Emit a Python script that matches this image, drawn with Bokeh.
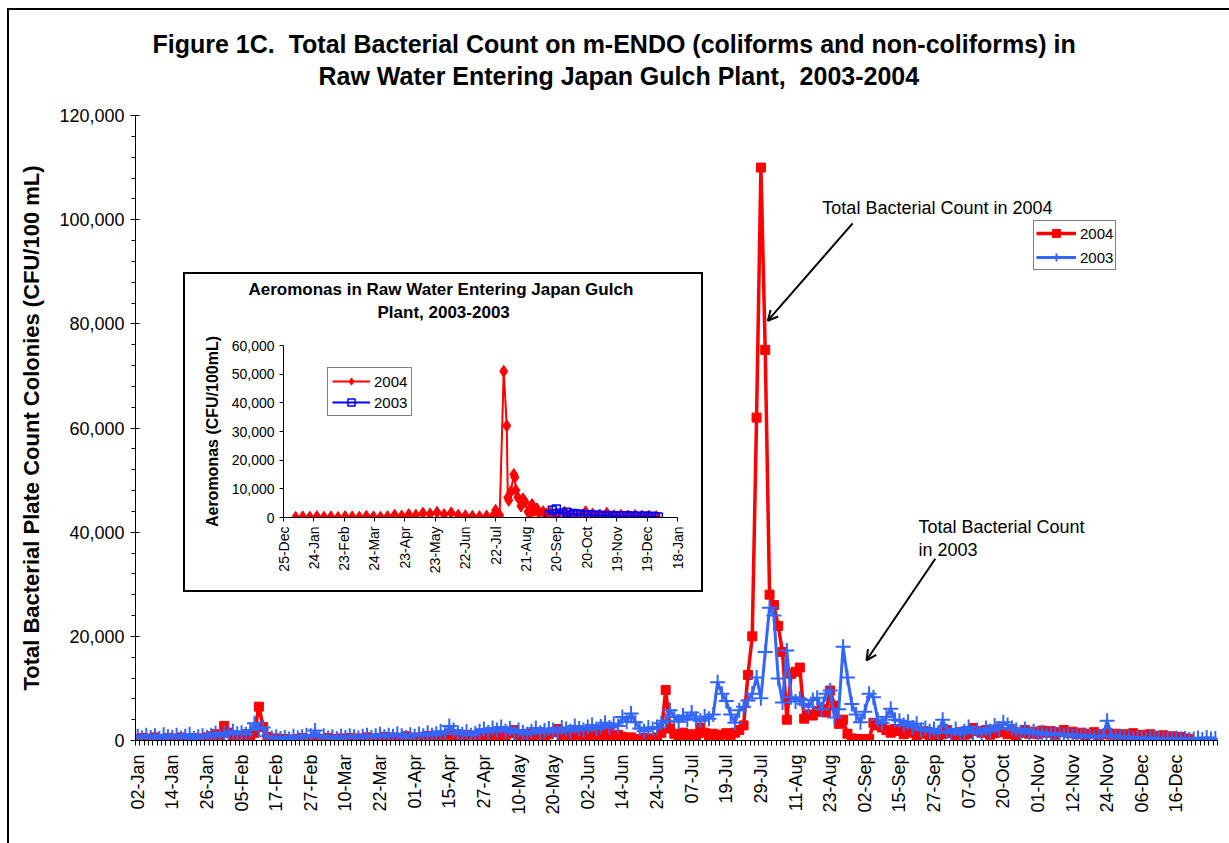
import math
import pandas as pd
from bokeh.plotting import figure
from bokeh.layouts import column
from bokeh.models import (Range1d, FixedTicker, NumeralTickFormatter, Title,
                          Legend, LegendItem, Label, Arrow, OpenHead)
from bokeh.embed import file_html
from bokeh.resources import INLINE

FONT = "Liberation Sans"
RED = "#FF0000"
BLUE = "#3366FF"
INSET_BLUE = "#0000FF"

# ---- main chart: sampling days (category axis) ----
x_labels = ["02-Jan", "14-Jan", "26-Jan", "05-Feb", "17-Feb", "27-Feb", "10-Mar", "22-Mar",
            "01-Apr", "15-Apr", "27-Apr", "10-May", "20-May", "02-Jun", "14-Jun", "24-Jun",
            "07-Jul", "19-Jul", "29-Jul", "11-Aug", "23-Aug", "02-Sep", "15-Sep", "27-Sep",
            "07-Oct", "20-Oct", "01-Nov", "12-Nov", "24-Nov", "06-Dec", "16-Dec"]
LABEL_EVERY = 8

cnt_2004 = [
    300, 500, 200, 400, 600, 300, 200, 500,
    400, 300, 600, 200, 300, 500, 200, 400,
    600, 800, 1200, 900, 2800, 1500, 600, 300,
    800, 1200, 900, 1500, 6500, 2600, 700, 300,
    400, 200, 300, 100, 200, 300, 500, 200,
    300, 400, 200, 300, 500, 300, 200, 400,
    300, 500, 200, 400, 300, 600, 400, 300,
    500, 700, 400, 600, 300, 500, 800, 400,
    600, 300, 500, 900, 400, 700, 500, 800,
    1200, 600, 900, 700, 1100, 500, 800, 1300,
    700, 1000, 1500, 900, 1200, 800, 1400, 2000,
    1100, 900, 1300, 700, 1000, 1500, 800, 1200,
    1600, 2200, 1000, 1300, 900, 1500, 1100, 800,
    1200, 700, 1000, 1600, 900, 1400, 800, 1100,
    700, 400, 600, 300, 200, 500, 300, 400,
    600, 1500, 9700, 2300, 1300, 800, 1500, 900,
    1200, 800, 2500, 1500, 1000, 1300, 900, 1100,
    1400, 1000, 1500, 2000, 2900, 12600, 20000, 62000,
    110000, 75000, 28000, 26000, 22000, 17000, 4000, 12800,
    13200, 14000, 4200, 5000, 4800, 5500, 6000, 5400,
    9600, 6700, 3200, 4000, 1300, 400, 200, 300,
    200, 300, 3400, 2900, 2500, 2000, 1500, 2200,
    1800, 1200, 2000, 1500, 900, 1300, 1800, 1000,
    1500, 800, 1200, 2000, 1400, 900, 1600, 1100,
    1300, 2400, 1800, 1500, 2000, 1100, 1400, 2300,
    1600, 1200, 1800, 900, 1500, 2000, 1300, 1700,
    1200, 1900, 1500, 1800, 1100, 1600, 2000, 1400,
    1700, 1200, 1500, 900, 1300, 1600, 1000, 1200,
    1400, 1100, 1300, 800, 1200, 1000, 1400, 900,
    1100, 800, 1200, 900, 700, 1000, 600, 800,
    500, 700, 400, 300,
]

cnt_2003 = [
    800, 500, 1000, 600, 900, 400, 1100, 700,
    600, 1000, 500, 800, 1200, 400, 700, 900,
    600, 1000, 1400, 800, 1500, 1200, 1800, 1300,
    1500, 1200, 2000, 3300, 2200, 2500, 800, 500,
    700, 400, 600, 300, 800, 500, 700, 1000,
    900, 1900, 600, 900, 500, 700, 400, 800,
    600, 900, 700, 500, 800, 1000, 600, 900,
    1200, 700, 1000, 800, 1300, 900, 600, 1100,
    800, 1200, 900, 1500, 1000, 1300, 1800, 1200,
    2800, 2000, 1500, 1200, 1700, 1000, 1400, 1800,
    2200, 1600, 2400, 2000, 2600, 1800, 2300, 1500,
    2000, 1600, 1200, 1800, 2400, 1500, 1900, 2300,
    2000, 1600, 2500, 2200, 1800, 2800, 2300, 2000,
    2600, 3000, 2200, 2700, 3400, 2500, 3200, 2800,
    4500, 3600, 5200, 3500, 2300, 1800, 2500, 2200,
    2600, 3300, 3800, 5800, 4500, 3600, 4800, 4000,
    5400, 4200, 3800, 4600, 4200, 5000, 11200, 9000,
    7600, 5000, 3400, 5800, 6500, 7700, 9000, 12100,
    8100, 17000, 25500, 24000, 11900, 7300, 17300, 8300,
    7500, 8000, 7000, 6500, 7800, 8200, 6000, 9000,
    9600, 4400, 6000, 18000, 12100, 7000, 5000, 3500,
    5500, 9000, 8300, 4000, 3300, 4500, 6100, 4000,
    3800, 3000, 3600, 2500, 3200, 2000, 2400, 1800,
    2200, 1500, 4000, 1800, 1500, 2200, 1200, 1800,
    2600, 1500, 2000, 1300, 2400, 1800, 2900, 2200,
    3500, 3000, 2400, 2000, 1600, 2200, 1400, 1800,
    1200, 1600, 1000, 1400, 1100, 1300, 900, 1200,
    800, 1100, 700, 1000, 800, 600, 900, 700,
    3800, 1000, 600, 800, 500, 700, 400, 600,
    500, 300, 600, 400, 500, 300, 400, 200,
    500, 300, 400, 200, 300, 500, 200, 600,
    300, 400,
]

y_ticks = [0, 20000, 40000, 60000, 80000, 100000, 120000]

# ---- inset chart: Aeromonas counts against calendar date ----
inset_ticks = ["2003-12-25", "2004-01-24", "2004-02-23", "2004-03-24", "2004-04-23",
               "2004-05-23", "2004-06-22", "2004-07-22", "2004-08-21", "2004-09-20",
               "2004-10-20", "2004-11-19", "2004-12-19", "2005-01-18"]
inset_y_ticks = [0, 10000, 20000, 30000, 40000, 50000, 60000]

aero_dates_2004 = [
    "2004-01-06", "2004-01-13", "2004-01-20", "2004-01-27", "2004-02-03", "2004-02-10", "2004-02-17", "2004-02-24",
    "2004-03-02", "2004-03-09", "2004-03-16", "2004-03-23", "2004-03-30", "2004-04-06", "2004-04-13", "2004-04-20",
    "2004-04-27", "2004-05-04", "2004-05-11", "2004-05-18", "2004-05-25", "2004-06-01", "2004-06-08", "2004-06-15",
    "2004-06-22", "2004-06-29", "2004-07-06", "2004-07-13", "2004-07-20", "2004-07-22", "2004-07-26", "2004-07-30",
    "2004-08-02", "2004-08-03", "2004-08-04", "2004-08-06", "2004-08-09", "2004-08-10", "2004-08-11", "2004-08-13",
    "2004-08-16", "2004-08-18", "2004-08-20", "2004-08-23", "2004-08-25", "2004-08-27", "2004-08-30", "2004-09-01",
    "2004-09-03", "2004-09-07", "2004-09-10", "2004-09-14", "2004-09-21", "2004-09-28", "2004-10-05", "2004-10-12",
    "2004-10-19", "2004-10-26", "2004-11-02", "2004-11-09", "2004-11-16", "2004-11-23", "2004-11-30", "2004-12-07",
    "2004-12-14", "2004-12-21", "2004-12-28",
]
aero_2004 = [
    0, 200, 100, 300, 100, 200, 0, 300,
    200, 100, 400, 200, 100, 300, 800, 500,
    1000, 800, 1500, 1200, 1800, 1000, 1600, 800,
    600, 400, 300, 500, 800, 2500, 800, 51000,
    32000, 7000, 6000, 9000, 15000, 14000, 9500, 7000,
    4000, 6500, 5500, 2000, 1000, 4500, 2500, 3000,
    1500, 2000, 1200, 1500, 1000, 1800, 1200, 800,
    2000, 1200, 900, 1500, 600, 800, 500, 700,
    400, 500, 300,
]

aero_dates_2003 = [
    "2004-09-13", "2004-09-16", "2004-09-20", "2004-09-23", "2004-09-27", "2004-09-30", "2004-10-04", "2004-10-07",
    "2004-10-11", "2004-10-14", "2004-10-18", "2004-10-21", "2004-10-25", "2004-10-28", "2004-11-01", "2004-11-04",
    "2004-11-08", "2004-11-11", "2004-11-15", "2004-11-18", "2004-11-22", "2004-11-25", "2004-11-29", "2004-12-02",
    "2004-12-06", "2004-12-09", "2004-12-13", "2004-12-16", "2004-12-20", "2004-12-23", "2004-12-27", "2004-12-30",
]
aero_2003 = [
    1000, 2500, 3000, 1500, 1200, 1800, 900, 1400,
    1000, 1200, 800, 1000, 700, 900, 600, 800,
    500, 700, 400, 600, 500, 400, 600, 300,
    500, 400, 300, 500, 200, 400, 300, 200,
]


def style_axis(ax, size):
    ax.axis_line_color = "black"
    ax.major_tick_line_color = "black"
    ax.minor_tick_line_color = "black"
    ax.major_label_text_font = FONT
    ax.major_label_text_font_size = size
    ax.major_label_text_color = "black"
    ax.axis_label_text_font = FONT
    ax.axis_label_text_color = "black"
    ax.axis_label_text_font_style = "bold"


def add_title(fig, text, size, offset, standoff):
    t = Title(text=text, align="left", offset=offset, text_font=FONT,
              text_font_size=size, text_font_style="bold", text_color="black")
    if "standoff" in Title.properties():
        t.standoff = standoff
    fig.add_layout(t, "above")


# ================= main figure =================
n_cat = len(cnt_2003)
p = figure(width=1220, height=833, x_range=Range1d(-0.5, n_cat - 0.5), y_range=Range1d(0, 120000),
           output_backend="svg", toolbar_location=None,
           min_border_left=126, min_border_right=12, min_border_top=105, min_border_bottom=103,
           background_fill_color="white", border_fill_color="white", outline_line_color=None)
p.xgrid.visible = False
p.ygrid.visible = False

tick_pos = [i * LABEL_EVERY for i in range(len(x_labels))]
xa = p.xaxis[0]
style_axis(xa, "18px")
xa.ticker = FixedTicker(ticks=tick_pos, minor_ticks=[i + 0.5 for i in range(-1, n_cat)])
xa.major_label_overrides = {pos: lab for pos, lab in zip(tick_pos, x_labels)}
xa.major_label_orientation = math.pi / 2
xa.major_tick_in = 0
xa.major_tick_out = 0
xa.minor_tick_in = 0
xa.minor_tick_out = 5
xa.major_label_standoff = 9

ya = p.yaxis[0]
style_axis(ya, "18px")
ya.ticker = FixedTicker(ticks=y_ticks, minor_ticks=list(range(0, 120001, 4000)))
ya.formatter = NumeralTickFormatter(format="0,0")
ya.major_tick_in = 4
ya.major_tick_out = 5
ya.minor_tick_in = 0
ya.minor_tick_out = 4
ya.major_label_standoff = 6
ya.axis_label = "Total Bacterial Plate Count Colonies (CFU/100 mL)"
ya.axis_label_text_font_size = "22px"
ya.axis_label_standoff = 12

x04 = list(range(len(cnt_2004)))
x03 = list(range(len(cnt_2003)))
l04 = p.line(x04, cnt_2004, line_color=RED, line_width=3.5)
m04 = p.scatter(x04, cnt_2004, marker="square", size=9, fill_color=RED, line_color=RED)
l03 = p.line(x03, cnt_2003, line_color=BLUE, line_width=3)
m03 = p.scatter(x03, cnt_2003, marker="cross", size=15, line_color=BLUE, line_width=2)

legend = Legend(items=[LegendItem(label="2004", renderers=[l04, m04]),
                       LegendItem(label="2003", renderers=[l03, m03])],
                location=(898, 470), border_line_color="black", border_line_width=1,
                background_fill_color="white", background_fill_alpha=1.0,
                label_text_font=FONT, label_text_font_size="15px", label_text_color="black",
                glyph_width=40, glyph_height=20, label_height=20, label_standoff=4,
                spacing=4, padding=2, margin=0)
p.add_layout(legend, "center")

# title block: a blank spacer next to the frame, then the two title lines
add_title(p, " ", "16px", 0, 6)
add_title(p, "Raw Water Entering Japan Gulch Plant,\u00a0 2003-2004", "25px", 183, 2)
add_title(p, "Figure 1C.\u00a0 Total Bacterial Count on m-ENDO (coliforms and non-coliforms) in", "25px", 17, 2)

note_style = dict(text_font=FONT, text_font_size="18px", text_color="black",
                  text_align="left", text_baseline="middle")
p.add_layout(Label(x=158.2, y=102300, text="Total Bacterial Count in 2004", **note_style))
p.add_layout(Label(x=180.4, y=40900, text="Total Bacterial Count", **note_style))
p.add_layout(Label(x=180.4, y=36500, text="in 2003", **note_style))
p.add_layout(Arrow(x_start=165.2, y_start=99300, x_end=145.6, y_end=80600,
                   line_color="black", line_width=2,
                   end=OpenHead(size=10, line_color="black", line_width=2)))
p.add_layout(Arrow(x_start=184.3, y_start=34900, x_end=168.4, y_end=15400,
                   line_color="black", line_width=2,
                   end=OpenHead(size=10, line_color="black", line_width=2)))

# ================= inset figure =================
origin = pd.Timestamp(inset_ticks[0])
inset_tick_days = [(pd.Timestamp(d) - origin).days for d in inset_ticks]
inset_tick_text = [pd.Timestamp(d).strftime("%d-%b") for d in inset_ticks]
days_2004 = [(pd.Timestamp(d) - origin).days for d in aero_dates_2004]
days_2003 = [(pd.Timestamp(d) - origin).days for d in aero_dates_2003]

ins = figure(width=516, height=316,
             x_range=Range1d(inset_tick_days[0], inset_tick_days[-1]), y_range=Range1d(0, 60000),
             output_backend="svg", toolbar_location=None,
             min_border_left=98, min_border_right=24, min_border_top=71, min_border_bottom=73,
             background_fill_color="white", border_fill_color="white", outline_line_color=None)
ins.xgrid.visible = False
ins.ygrid.visible = False

ixa = ins.xaxis[0]
style_axis(ixa, "14px")
ixa.ticker = FixedTicker(ticks=inset_tick_days, minor_ticks=[])
ixa.major_label_overrides = {d: t for d, t in zip(inset_tick_days, inset_tick_text)}
ixa.major_label_orientation = math.pi / 2
ixa.major_tick_in = 0
ixa.major_tick_out = 4
ixa.minor_tick_out = 0
ixa.major_label_standoff = 5

iya = ins.yaxis[0]
style_axis(iya, "14px")
iya.ticker = FixedTicker(ticks=inset_y_ticks, minor_ticks=[])
iya.formatter = NumeralTickFormatter(format="0,0")
iya.major_tick_in = 0
iya.major_tick_out = 4
iya.minor_tick_out = 0
iya.major_label_standoff = 5
iya.axis_label = "Aeromonas (CFU/100mL)"
iya.axis_label_text_font_size = "16px"
iya.axis_label_standoff = 8

il04 = ins.line(days_2004, aero_2004, line_color=RED, line_width=2)
im04 = ins.scatter(days_2004, aero_2004, marker="diamond", size=12, fill_color=RED, line_color=RED)
il03 = ins.line(days_2003, aero_2003, line_color=INSET_BLUE, line_width=2)
im03 = ins.scatter(days_2003, aero_2003, marker="square", size=8, fill_color=None,
                   line_color=INSET_BLUE, line_width=1.5)

ileg = Legend(items=[LegendItem(label="2004", renderers=[il04, im04]),
                     LegendItem(label="2003", renderers=[il03, im03])],
              location=(44, 101), border_line_color="black", border_line_width=1,
              background_fill_color="white", background_fill_alpha=1.0,
              label_text_font=FONT, label_text_font_size="15px", label_text_color="black",
              glyph_width=38, glyph_height=18, label_height=18, label_standoff=4,
              spacing=3, padding=4, margin=0)
ins.add_layout(ileg, "center")

add_title(ins, " ", "14px", 0, 5)
add_title(ins, "Plant, 2003-2003", "17px", 94, 2)
add_title(ins, "Aeromonas in Raw Water Entering Japan Gulch", "17px", -35, 2)

# outer chart border (left/top) and the boxed inset overlapping the main chart
outer = column(p, margin=(8, 0, 0, 7),
               styles={"border-left": "2px solid black", "border-top": "2px solid black"})
inset_box = column(ins, margin=(-571, 0, 0, 183), styles={"border": "2px solid black"})
layout = column(outer, inset_box, spacing=0)
open("out.html", "w").write(file_html(layout, INLINE))
